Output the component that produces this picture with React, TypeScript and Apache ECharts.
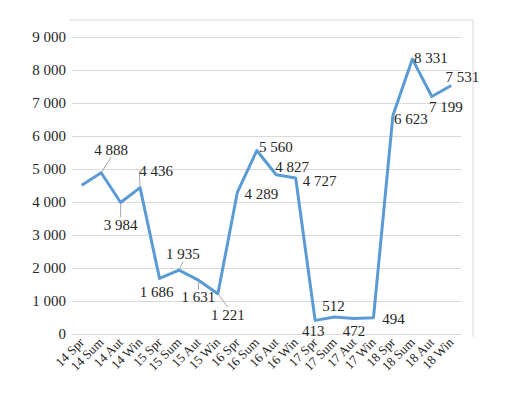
import React, { useEffect, useRef } from "react";
import * as echarts from "echarts";

const categories = [
  "14 Spr", "14 Sum", "14 Aut", "14 Win",
  "15 Spr", "15 Sum", "15 Aut", "15 Win",
  "16 Spr", "16 Sum", "16 Aut", "16 Win",
  "17 Spr", "17 Sum", "17 Aut", "17 Win",
  "18 Spr", "18 Sum", "18 Aut", "18 Win",
];
const values = [
  4506, 4888, 3984, 4436,
  1686, 1935, 1631, 1221,
  4289, 5560, 4827, 4727,
  413, 512, 472, 494,
  6623, 8331, 7199, 7531,
];
const showLabel = [
  false, true, true, true, true, true, true, true, true, true,
  true, true, true, true, true, true, true, true, true, true,
];
const hasLeader = [
  false, true, true, true, false, true, true, true, false, false,
  false, false, false, false, false, false, false, false, false, false,
];
// label centre offsets from the point (layout only)
const labelOffsets: [number, number][] = [
  [0, 0], [10, -23], [0, 22], [16, -17],
  [-3, 14], [4, -16], [0, 17], [10, 21],
  [24, 2], [19, -4], [16, -8], [24, 3],
  [-2, 11], [-1, -11], [0, 13], [20, 1],
  [18, 4], [18.5, -1], [14, 11], [11, -8],
];
const yTicks = { min: 0, max: 9000, interval: 1000 };

const fmt = (v: number) =>
  String(Math.round(v)).replace(/\B(?=(\d{3})+(?!\d))/g, " ");

export default function App() {
  const ref = useRef<HTMLDivElement>(null);
  useEffect(() => {
    document.body.style.margin = "0";
    if (!ref.current) return;
    const chart = echarts.init(ref.current, null, { renderer: "svg" });
    const serif = "Times New Roman, Liberation Serif, serif";
    chart.setOption({
      animation: false,
      backgroundColor: "#ffffff",
      textStyle: { fontFamily: serif },
      grid: { left: 72, right: 49, top: 37, bottom: 62, containLabel: false },
      graphic: [
        {
          type: "polyline",
          shape: { points: [[69, 20], [473, 20], [473, 337]] },
          style: { stroke: "#D9D9D9", lineWidth: 1, fill: "none" },
          silent: true,
        },
      ],
      xAxis: {
        type: "category",
        data: categories,
        boundaryGap: true,
        axisLine: { show: true, lineStyle: { color: "#D9D9D9" } },
        axisTick: { show: false },
        axisLabel: {
          interval: 0,
          rotate: 45,
          margin: 6,
          fontFamily: serif,
          fontSize: 13,
          color: "#262626",
        },
      },
      yAxis: {
        type: "value",
        min: yTicks.min,
        max: yTicks.max,
        interval: yTicks.interval,
        axisLine: { show: false },
        axisTick: { show: false },
        splitLine: { lineStyle: { color: "#D9D9D9", width: 1 } },
        axisLabel: {
          fontFamily: serif,
          fontSize: 15,
          color: "#262626",
          margin: 6,
          formatter: (v: number) => fmt(v),
        },
      },
      series: [
        {
          type: "line",
          data: values.map((v, i) => ({
            value: v,
            label: { show: showLabel[i] },
            labelLine: {
              show: hasLeader[i],
              lineStyle: { color: "#A6A6A6", width: 1 },
            },
          })),
          symbol: "circle",
          symbolSize: 2,
          showSymbol: true,
          itemStyle: { color: "rgba(0,0,0,0)" },
          lineStyle: { color: "#5B9BD5", width: 3, join: "round" },
          label: {
            show: true,
            position: "top",
            fontFamily: serif,
            fontSize: 15,
            color: "#262626",
            formatter: (p: any) => fmt(p.value),
          },
          labelLayout: (p: any) => {
            const off = labelOffsets[p.dataIndex] || [0, 0];
            const cx = p.rect.x + p.rect.width / 2;
            const cy = p.rect.y + p.rect.height / 2;
            return {
              x: cx + off[0],
              y: cy + off[1],
              align: "center",
              verticalAlign: "middle",
            };
          },
        },
      ],
    });
    return () => chart.dispose();
  }, []);
  return <div ref={ref} style={{ width: 510, height: 396 }} />;
}
